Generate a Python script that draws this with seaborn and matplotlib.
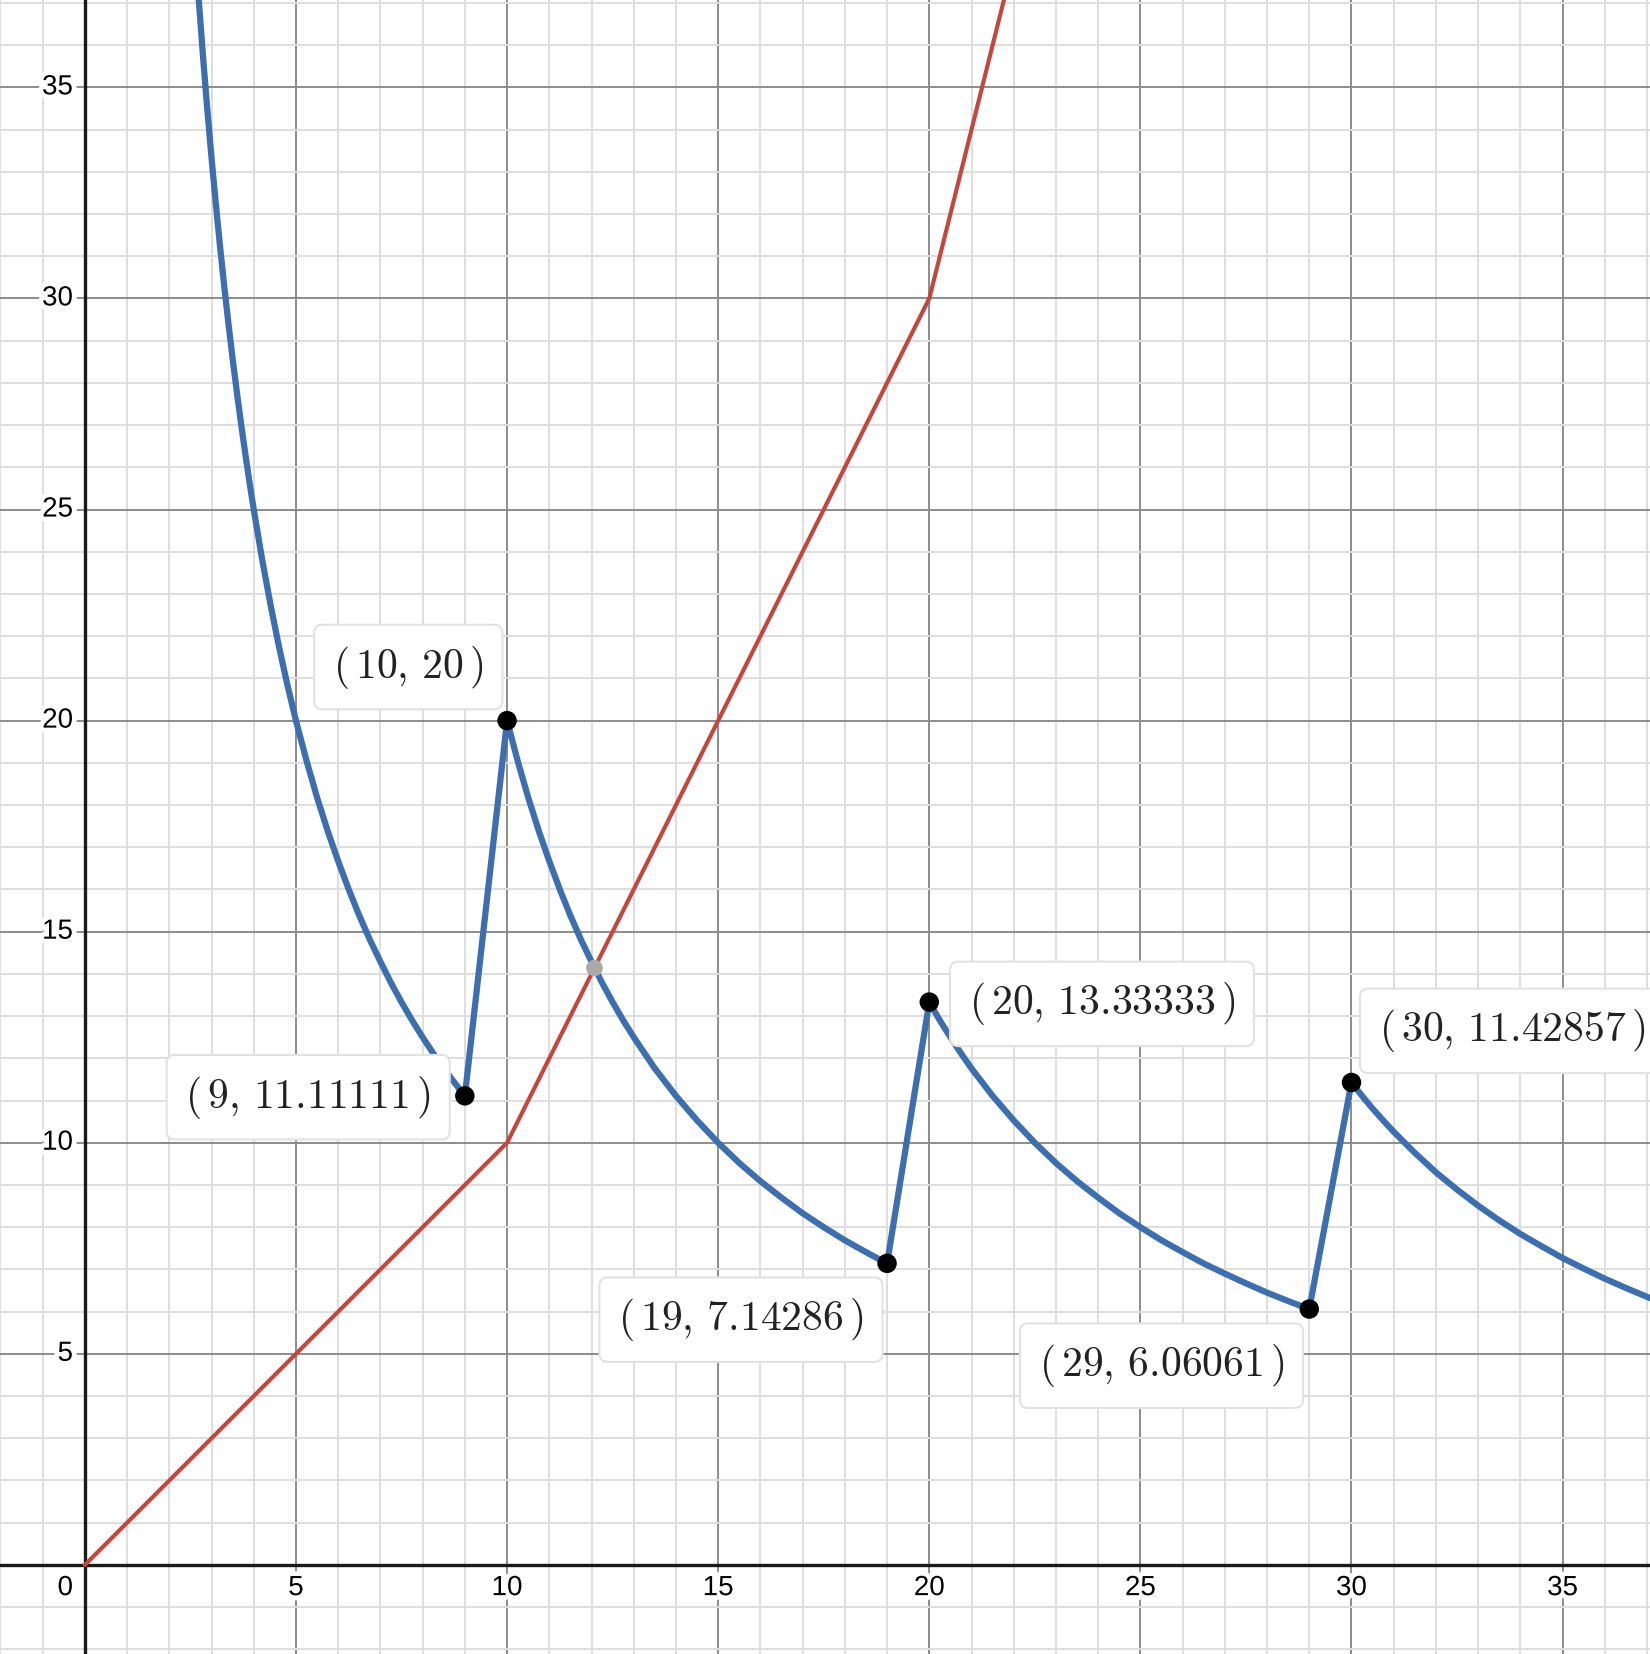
import matplotlib
matplotlib.use('Agg')
import matplotlib.pyplot as plt
import matplotlib.patheffects as pe
import numpy as np
import seaborn as sns

# blue curve (piecewise, with jumps at 10, 20, 30)
blue_x = [2.65, 2.7, 2.8, 2.9, 3.0, 3.1, 3.2, 3.3, 3.4, 3.5, 3.6, 3.7, 3.8, 3.9, 4.0, 4.2, 4.4, 4.6, 4.8,
          5.0, 5.25, 5.5, 5.75, 6.0, 6.25, 6.5, 6.75, 7.0, 7.25, 7.5, 7.75, 8.0, 8.25, 8.5, 8.75, 9.0,
          10.0, 10.25, 10.5, 10.75, 11.0, 11.25, 11.5, 11.75, 12.0, 12.25, 12.5, 12.75, 13.0, 13.5, 14.0,
          14.5, 15.0, 15.5, 16.0, 16.5, 17.0, 17.5, 18.0, 18.5, 19.0,
          20.0, 20.25, 20.5, 20.75, 21.0, 21.5, 22.0, 22.5, 23.0, 23.5, 24.0, 24.5, 25.0, 25.5, 26.0,
          26.5, 27.0, 27.5, 28.0, 28.5, 29.0,
          30.0, 30.25, 30.5, 30.75, 31.0, 31.5, 32.0, 32.5, 33.0, 33.5, 34.0, 34.5, 35.0, 35.5, 36.0,
          36.5, 37.0, 37.5]
blue_y = [37.74, 37.04, 35.71, 34.48, 33.33, 32.26, 31.25, 30.30, 29.41, 28.57, 27.78, 27.03, 26.32, 25.64, 25.00,
          23.81, 22.73, 21.74, 20.83,
          20.00, 19.05, 18.18, 17.39, 16.67, 16.00, 15.38, 14.81, 14.29, 13.79, 13.33, 12.90, 12.50, 12.12, 11.76,
          11.43, 11.11,
          20.00, 19.05, 18.18, 17.39, 16.67, 16.00, 15.38, 14.81, 14.29, 13.79, 13.33, 12.90, 12.50, 11.76, 11.11,
          10.53, 10.00, 9.52, 9.09, 8.70, 8.33, 8.00, 7.69, 7.41, 7.14,
          13.33, 12.90, 12.50, 12.12, 11.76, 11.11, 10.53, 10.00, 9.52, 9.09, 8.70, 8.33, 8.00, 7.69, 7.41,
          7.14, 6.90, 6.67, 6.45, 6.25, 6.06,
          11.43, 11.11, 10.81, 10.53, 10.26, 9.76, 9.30, 8.89, 8.51, 8.16, 7.84, 7.55, 7.27, 7.02, 6.78,
          6.56, 6.35, 6.15]

# red curve
red_x = [0, 10, 20, 22]
red_y = [0, 10, 30, 38]

# labelled points
pt_x = [9, 10, 19, 20, 29, 30]
pt_y = [11.11111, 20, 7.14286, 13.33333, 6.06061, 11.42857]
pt_text = ['9,\\,11.11111', '10,\\,20', '19,\\,7.14286', '20,\\,13.33333', '29,\\,6.06061', '30,\\,11.42857']
label_x = [5.29, 7.66, 15.54, 24.09, 25.5, 33.8]
label_y = [11.08, 21.27, 5.81, 13.29, 4.72, 12.65]

# intersection point (grey)
cross_x = [12.07]
cross_y = [14.14]

ticks = [5, 10, 15, 20, 25, 30, 35]

sns.set_style('white')
plt.rcParams['mathtext.fontset'] = 'cm'
plt.rcParams['font.family'] = ['Liberation Sans', 'DejaVu Sans']

fig = plt.figure(figsize=(16.5, 16.54), dpi=100)
ax = fig.add_axes([0, 0, 1, 1])
ax.set_xlim(-2.01, 37.07)
ax.set_ylim(-2.11, 37.07)
for s in ax.spines.values():
    s.set_visible(False)

# grid: minor every 1, major every 5
ax.set_xticks(np.arange(-2, 38, 1), minor=True)
ax.set_yticks(np.arange(-2, 38, 1), minor=True)
ax.set_xticks(np.arange(0, 40, 5))
ax.set_yticks(np.arange(0, 40, 5))
ax.grid(which='minor', color='#dedede', lw=1.4, zorder=0)
ax.grid(which='major', color='#8c8c8c', lw=1.4, zorder=0.5)
ax.tick_params(which='both', length=0, labelbottom=False, labelleft=False)
ax.set_axisbelow(True)
ax.axhline(0, color='#1a1a1a', lw=2.4, zorder=1)
ax.axvline(0, color='#1a1a1a', lw=2.4, zorder=1)

halo = [pe.withStroke(linewidth=7, foreground='white')]
for t in ticks:
    ax.text(-0.28, t, str(t), ha='right', va='center', fontsize=20, color='black',
            path_effects=halo, zorder=2)
    ax.text(t, -0.55, str(t), ha='center', va='center', fontsize=20, color='black',
            path_effects=halo, zorder=2)
ax.text(-0.28, -0.55, '0', ha='right', va='center', fontsize=20, color='black',
        path_effects=halo, zorder=2)

sns.lineplot(x=red_x, y=red_y, sort=False, estimator=None, color='#c4473f', lw=3.0, ax=ax, zorder=3)
sns.lineplot(x=blue_x, y=blue_y, sort=False, estimator=None, color='#3d6eae', lw=4.5, ax=ax, zorder=4,
             solid_joinstyle='round')

ax.scatter(cross_x, cross_y, s=12 ** 2, color='#a9a9a9', edgecolor='none', zorder=5)
ax.scatter(pt_x, pt_y, s=14 ** 2, color='black', edgecolor='none', zorder=6)

for lx, ly, txt in zip(label_x, label_y, pt_text):
    ax.text(lx, ly, '$(\\,' + txt + '\\,)$', ha='center', va='center', fontsize=30, color='#222222',
            zorder=7,
            bbox=dict(boxstyle='round,pad=0.45,rounding_size=0.2', facecolor='white',
                      edgecolor='#e2e2e2', lw=1.5))

fig.savefig('out.png', dpi=100)
